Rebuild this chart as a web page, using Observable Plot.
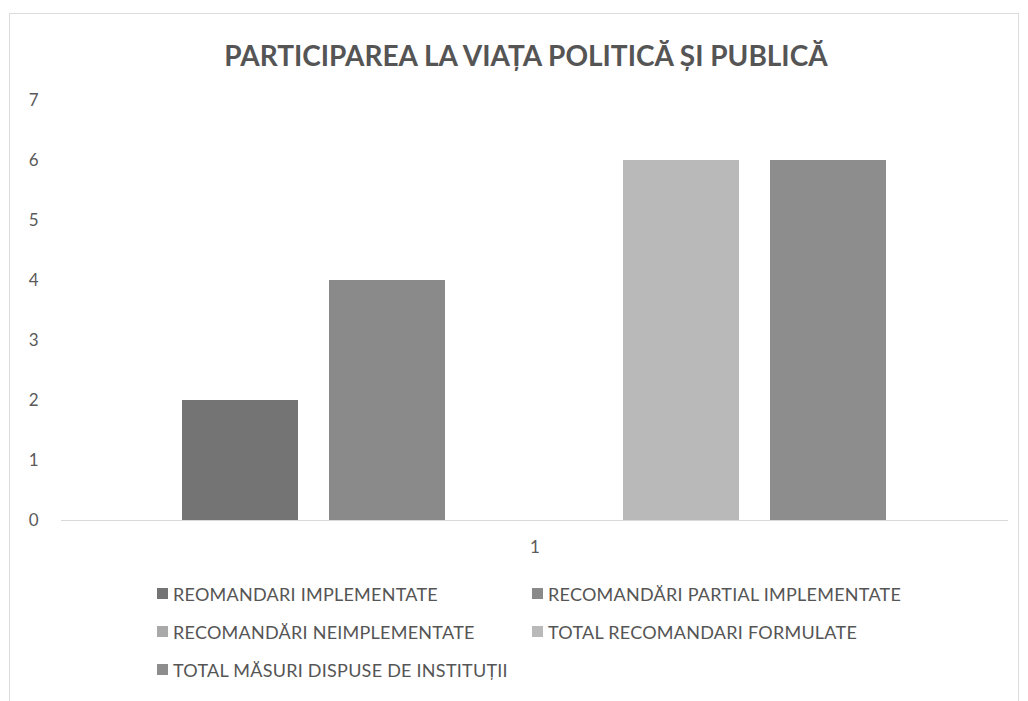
<!DOCTYPE html>
<html>
<head>
<meta charset="utf-8">
<script src="https://cdn.jsdelivr.net/npm/d3@7"></script>
<script src="https://cdn.jsdelivr.net/npm/@observablehq/plot@0.6"></script>
<style>
  body { margin: 0; background: #fff; font-family: Lato, "Open Sans", sans-serif; }
  #frame { position: absolute; left: 9px; top: 13px; width: 1010px; height: 700px; border: 1px solid #dcdcdc; box-sizing: border-box; }
  #wrap { position: relative; width: 1028px; height: 701px; }
  #title { position: absolute; top: 38px; left: 0; width: 1052px; text-align: center; font-size: 28px; font-weight: bold; color: #555; letter-spacing: 0px; }
  #chart { position: absolute; top: 85px; left: 0; }
  #legend { position: absolute; top: 582px; left: 157px; width: 760px; display: flex; flex-wrap: wrap; }
  .item { width: 375px; height: 38px; display: flex; align-items: flex-start; font-size: 18px; color: #555; line-height: 24px; letter-spacing: 0.25px; }
  .sw { width: 11px; height: 11px; margin-right: 5px; margin-top: 6px; flex: none; }
</style>
</head>
<body>
<div id="wrap">
  <div id="frame"></div>
  <div id="title">PARTICIPAREA LA VIAȚA POLITICĂ ȘI PUBLICĂ</div>
  <div id="chart"></div>
  <div id="legend"></div>
</div>
<script>
const categories = ["1"];
const series = [
  "REOMANDARI IMPLEMENTATE",
  "RECOMANDĂRI PARTIAL IMPLEMENTATE",
  "RECOMANDĂRI NEIMPLEMENTATE",
  "TOTAL RECOMANDARI FORMULATE",
  "TOTAL MĂSURI DISPUSE DE INSTITUȚII"
];
const values = [2, 4, 0, 6, 6];
const colors = ["#747474", "#8a8a8a", "#a9a9a9", "#b9b9b9", "#8d8d8d"];
const yTicks = [0, 1, 2, 3, 4, 5, 6, 7];

const data = series.map((s, i) => ({category: categories[0], series: s, value: values[i]}));

const chart = Plot.plot({
  width: 1028,
  height: 480,
  marginLeft: 61,
  marginRight: 20,
  marginTop: 15,
  marginBottom: 45,
  style: {fontFamily: "Lato, 'Open Sans', sans-serif", fontSize: "17px", color: "#5a5a5a", background: "transparent"},
  fx: {domain: categories, padding: 0, label: null, tickSize: 0, tickPadding: 20, axis: "bottom"},
  x: {domain: series, paddingInner: 0.21, paddingOuter: 0.815, axis: null},
  y: {domain: [0, 7], ticks: yTicks, tickSize: 0, tickPadding: 23, label: null, tickFormat: d3.format("d")},
  color: {domain: series, range: colors},
  marks: [
    Plot.ruleY([0], {stroke: "#d9d9d9", strokeWidth: 1}),
    Plot.barY(data, {fx: "category", x: "series", y: "value", fill: "series"})
  ]
});
document.getElementById("chart").appendChild(chart);

const legend = document.getElementById("legend");
series.forEach((s, i) => {
  const item = document.createElement("div");
  item.className = "item";
  const sw = document.createElement("span");
  sw.className = "sw";
  sw.style.background = colors[i];
  const t = document.createElement("span");
  t.textContent = s;
  item.appendChild(sw);
  item.appendChild(t);
  legend.appendChild(item);
});
</script>
</body>
</html>
